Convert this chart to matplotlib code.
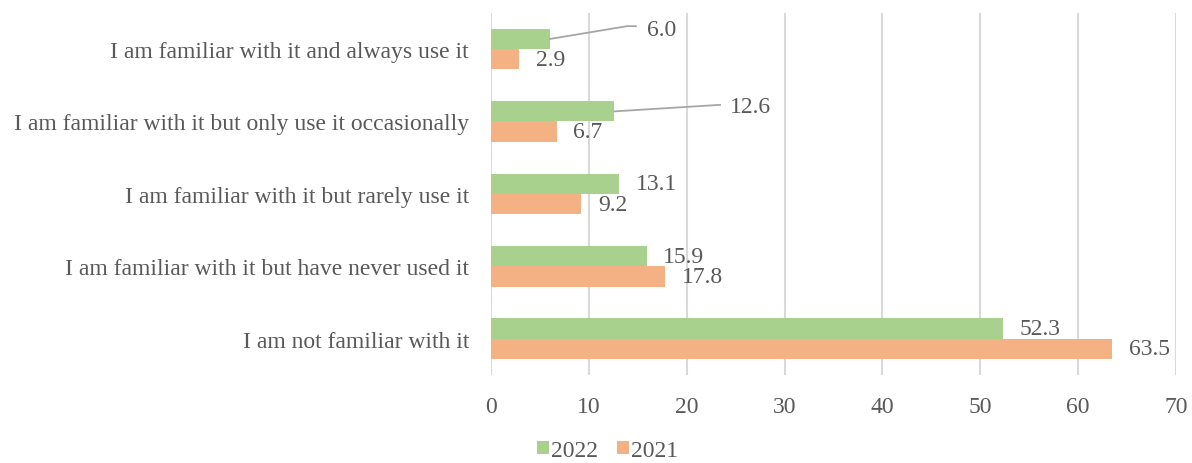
import matplotlib.pyplot as plt
import numpy as np

plt.rcParams['font.family'] = ['Liberation Serif', 'DejaVu Serif']

categories = [
    "I am familiar with it and always use it",
    "I am familiar with it but only use it occasionally",
    "I am familiar with it but rarely use it",
    "I am familiar with it but have never used it",
    "I am not familiar with it",
]
vals_2022 = [6.0, 12.6, 13.1, 15.9, 52.3]
vals_2021 = [2.9, 6.7, 9.2, 17.8, 63.5]
xticks = [0, 10, 20, 30, 40, 50, 60, 70]

green = '#A9D18E'
orange = '#F4B183'
txt = '#595959'
fs = 17

fig = plt.figure(figsize=(11.92, 4.64), dpi=100)
ax = fig.add_axes([0.412, 0.19, 0.5746, 0.78])

y = np.arange(len(categories))
h = 0.28
ax.barh(y - h / 2, vals_2022, height=h, color=green, label='2022', zorder=3)
ax.barh(y + h / 2, vals_2021, height=h, color=orange, label='2021', zorder=3)
ax.set_ylim(len(categories) - 0.5, -0.5)
ax.set_xlim(0, 70)
ax.set_xticks(xticks)
ax.set_yticks(y)
ax.set_yticklabels(categories)
ax.tick_params(axis='both', length=0, labelsize=fs, colors=txt)
ax.tick_params(axis='y', pad=16)
ax.tick_params(axis='x', pad=15)
ax.grid(axis='x', color='#D9D9D9', lw=1.5, zorder=0)
for s in ax.spines.values():
    s.set_visible(False)

# value labels, two with leader lines
lead = {0: (13.9, -0.317, 14.8, 15.9, -0.276),
        1: (23.4, 0.77, 23.4, 24.4, 0.786)}
for i, (v2, v1) in enumerate(zip(vals_2022, vals_2021)):
    if i in lead:
        bx, by, ex, tx, ty = lead[i]
        ax.plot([v2, bx, ex], [y[i] - h / 2, by, by],
                color='#A6A6A6', lw=1.3, zorder=4)
        ax.text(tx, ty, f'{v2:.1f}', va='center', ha='left', fontsize=fs, color=txt)
    else:
        ax.text(v2 + 1.7, y[i] - h / 2, f'{v2:.1f}', va='center', ha='left',
                fontsize=fs, color=txt)
    ax.text(v1 + 1.7, y[i] + h / 2, f'{v1:.1f}', va='center', ha='left',
            fontsize=fs, color=txt)

leg = fig.legend(loc='lower center', bbox_to_anchor=(0.51, -0.042), ncol=2,
                 frameon=False, fontsize=fs, handlelength=0.48, handleheight=0.48,
                 handletextpad=0.12, columnspacing=0.8)
for t in leg.get_texts():
    t.set_color(txt)

fig.savefig('out.png', dpi=100)
